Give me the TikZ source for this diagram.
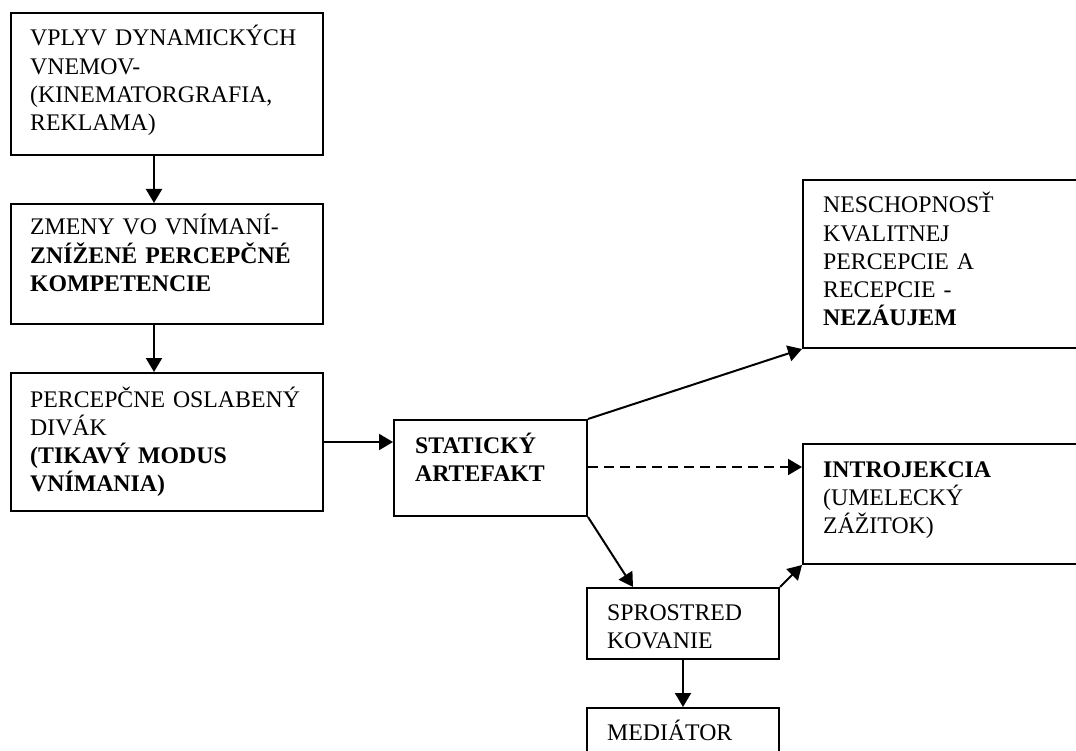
\documentclass[tikz,border=0pt]{standalone}
\usepackage{fontspec}
\setmainfont{Liberation Serif}
\usetikzlibrary{arrows.meta,calc}
\begin{document}
\begin{tikzpicture}[x=1pt,y=-1pt,
 box/.style={draw,line width=2pt,rectangle,inner sep=0pt,anchor=north west},
 txt/.style={inner sep=0pt,anchor=base west,align=left,text width=300pt,font=\fontsize{23.8}{28.2}\selectfont},
 arr/.style={line width=2pt,-{Triangle[length=14pt,width=16pt]}}]
\useasboundingbox (0,0) rectangle (1076,751);
\clip (0,0) rectangle (1076,751);
% boxes
\node[box,minimum width=312pt,minimum height=142pt] (b1) at (10,12) {};
\node[box,minimum width=312pt,minimum height=120pt] (b2) at (10,203) {};
\node[box,minimum width=312pt,minimum height=138pt] (b3) at (10,372) {};
\node[box,minimum width=193pt,minimum height=96pt] (st) at (393,419) {};
\node[box,minimum width=300pt,minimum height=168pt] (nes) at (802,179) {};
\node[box,minimum width=300pt,minimum height=120pt] (intro) at (802,443) {};
\node[box,minimum width=192pt,minimum height=71pt] (sp) at (586,587) {};
\node[box,minimum width=192pt,minimum height=80pt] (med) at (586,707) {};
% texts
\node[txt] (t1) at (30,46) {VPLYV DYNAMICKÝCH\\VNEMOV-\\(KINEMATORGRAFIA,\\REKLAMA)};
\node[txt] (t2) at (30,235) {ZMENY VO VNÍMANÍ-\\\textbf{ZNÍŽENÉ PERCEPČNÉ}\\\textbf{KOMPETENCIE}};
\node[txt] (t3) at (30,407) {PERCEPČNE OSLABENÝ\\DIVÁK\\\textbf{(TIKAVÝ MODUS}\\\textbf{VNÍMANIA)}};
\node[txt] (tst) at (415,453) {\textbf{STATICKÝ}\\\textbf{ARTEFAKT}};
\node[txt] (tnes) at (823,213) {NESCHOPNOSŤ\\KVALITNEJ\\PERCEPCIE A\\RECEPCIE -\\\textbf{NEZÁUJEM}};
\node[txt] (tintro) at (823,477) {\textbf{INTROJEKCIA}\\(UMELECKÝ\\ZÁŽITOK)};
\node[txt] (tsp) at (607,620) {SPROSTRED\\KOVANIE};
\node[txt] (tmed) at (607,740) {MEDIÁTOR};
% coordinates
\coordinate (a1s) at ($(b1.south west)+(144,0)$);
\coordinate (a2s) at ($(b2.south west)+(144,0)$);
\coordinate (a3s) at ($(b3.north east)+(0,70)$);
\coordinate (dss) at ($(st.north east)+(0,48)$);
\coordinate (spt) at ($(sp.north west)+(47,0)$);
% connectors
\draw[arr] (a1s) -- (a1s |- b2.north);
\draw[arr] (a2s) -- (a2s |- b3.north);
\draw[arr] (a3s) -- (a3s -| st.west);
\draw[arr] (st.north east) -- (nes.south west);
\draw[arr,dash pattern=on 10pt off 6pt] (dss) -- (dss -| intro.west);
\draw[arr] (st.south east) -- (spt);
\draw[arr] (sp.north east) -- (intro.south west);
\draw[arr] (sp.south) -- (med.north);
\end{tikzpicture}
\end{document}
